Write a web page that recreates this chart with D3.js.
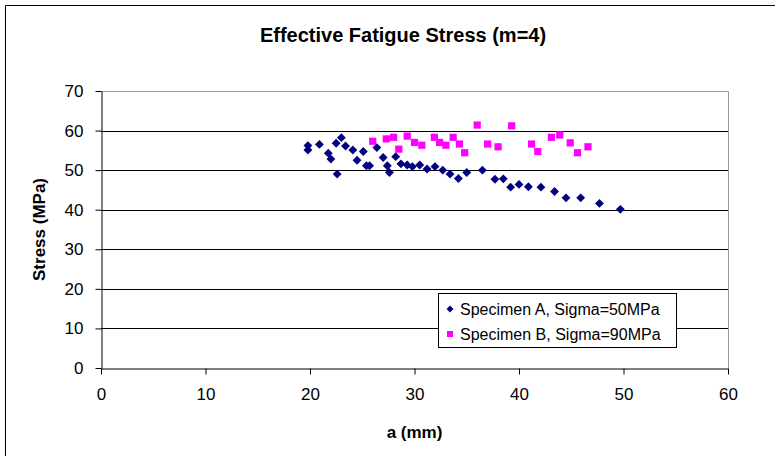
<!DOCTYPE html>
<html>
<head>
<meta charset="utf-8">
<script src="https://cdn.jsdelivr.net/npm/d3@7"></script>
<style>
  body { margin: 0; background: #fff; }
  svg { display: block; font-family: "Liberation Sans", Arial, sans-serif; }
</style>
</head>
<body>
<div id="chart"></div>
<script>
// ---------- DATA ----------
const title = "Effective Fatigue Stress (m=4)";
const xLabel = "a (mm)";
const yLabel = "Stress (MPa)";
const xTicks = [0, 10, 20, 30, 40, 50, 60];
const yTicks = [0, 10, 20, 30, 40, 50, 60, 70];

// Specimen A, Sigma=50MPa
const aX = [19.8, 19.8, 20.9, 21.75, 22.0, 22.6, 22.5, 23.0, 23.4, 24.1, 24.5, 25.1, 25.4, 25.7,
  26.4, 27.0, 27.4, 27.6, 28.2, 28.7, 29.3, 29.8, 30.5, 31.2, 31.96, 32.7, 33.4, 34.2, 35.0,
  36.5, 37.7, 38.5, 39.2, 40.0, 40.9, 42.1, 43.4, 44.5, 45.9, 47.7, 49.7];
const aY = [56.2, 55.1, 56.5, 54.3, 52.8, 49.0, 56.8, 58.2, 56.1, 55.1, 52.5, 54.7, 51.1, 51.1,
  55.7, 53.2, 51.1, 49.4, 53.4, 51.6, 51.3, 50.9, 51.3, 50.3, 50.9, 50.0, 49.0, 47.9, 49.4,
  50.0, 47.7, 47.8, 45.7, 46.4, 45.8, 45.7, 44.6, 43.0, 43.0, 41.6, 40.1];

// Specimen B, Sigma=90MPa
const bX = [26.0, 27.3, 28.0, 28.5, 29.3, 30.0, 30.7, 31.9, 32.4, 33.0, 33.7, 34.3, 34.8,
  36.0, 37.0, 38.0, 39.3, 41.2, 41.8, 43.1, 43.9, 44.9, 45.6, 46.6];
const bY = [57.3, 57.9, 58.3, 55.3, 58.6, 57.0, 56.3, 58.3, 57.0, 56.3, 58.3, 56.6, 54.4,
  61.4, 56.6, 55.9, 61.2, 56.6, 54.7, 58.3, 58.9, 56.9, 54.4, 55.9];

const seriesNames = ["Specimen A, Sigma=50MPa", "Specimen B, Sigma=90MPa"];
const seriesColors = ["#000080", "#ff00ff"];

// ---------- DRAW ----------
const W = 775, H = 456;
const plot = { left: 101, right: 728, top: 91, bottom: 368 };

const svg = d3.select("#chart").append("svg")
  .attr("width", W)
  .attr("height", H);

svg.append("rect")
  .attr("width", W).attr("height", H)
  .attr("fill", "#fff");

// outer chart frame
svg.append("path")
  .attr("d", `M5.5,${H} V5.5 H${W}`)
  .attr("fill", "none")
  .attr("stroke", "#000");

const x = d3.scaleLinear().domain([0, 60]).range([plot.left, plot.right]);
const y = d3.scaleLinear().domain([0, 70]).range([plot.bottom, plot.top]);

// gridlines
svg.append("g")
  .selectAll("line")
  .data(yTicks.filter(t => t > 0 && t < 70))
  .enter()
  .append("line")
  .attr("x1", plot.left).attr("x2", plot.right)
  .attr("y1", d => Math.round(y(d)) + 0.5)
  .attr("y2", d => Math.round(y(d)) + 0.5)
  .attr("stroke", "#000");

// plot area border (top/right, grey)
svg.append("path")
  .attr("d", `M${plot.left},${Math.round(y(70)) + 0.5} H${plot.right + 0.5} V${plot.bottom}`)
  .attr("fill", "none")
  .attr("stroke", "#999");

// axes
const xAxis = svg.append("g")
  .attr("transform", `translate(0,${Math.round(y(0)) + 0.5})`)
  .call(d3.axisBottom(x).tickValues(xTicks).tickSize(6).tickPadding(13).tickSizeOuter(0));
const yAxis = svg.append("g")
  .attr("transform", `translate(${Math.round(x(0)) + 0.5},0)`)
  .call(d3.axisLeft(y).tickValues(yTicks).tickSize(6).tickPadding(12).tickSizeOuter(0));

[xAxis, yAxis].forEach(a => {
  a.select(".domain").attr("stroke", "#000");
  a.selectAll(".tick line").attr("stroke", "#000");
  a.selectAll(".tick text")
    .attr("fill", "#000")
    .style("font-family", "'Liberation Sans', Arial, sans-serif")
    .style("font-size", "17px");
});

// titles
svg.append("text")
  .attr("x", 403).attr("y", 42)
  .attr("text-anchor", "middle")
  .style("font-weight", "bold")
  .style("font-size", "20px")
  .text(title);

svg.append("text")
  .attr("x", (plot.left + plot.right) / 2).attr("y", 438)
  .attr("text-anchor", "middle")
  .style("font-weight", "bold")
  .style("font-size", "17px")
  .text(xLabel);

svg.append("text")
  .attr("transform", `translate(45,${(plot.top + plot.bottom) / 2}) rotate(-90)`)
  .attr("text-anchor", "middle")
  .style("font-weight", "bold")
  .style("font-size", "17px")
  .text(yLabel);

// markers
const diamond = d3.symbol().type(d3.symbolDiamond2).size(50);
const square = d3.symbol().type(d3.symbolSquare).size(52);

svg.append("g")
  .selectAll("path")
  .data(aX.map((v, i) => [v, aY[i]]))
  .enter()
  .append("path")
  .attr("d", diamond)
  .attr("transform", d => `translate(${x(d[0])},${y(d[1])})`)
  .attr("fill", seriesColors[0]);

svg.append("g")
  .selectAll("path")
  .data(bX.map((v, i) => [v, bY[i]]))
  .enter()
  .append("path")
  .attr("d", square)
  .attr("transform", d => `translate(${x(d[0])},${y(d[1])})`)
  .attr("fill", seriesColors[1]);

// legend
const legend = svg.append("g").attr("transform", "translate(438,293)");
legend.append("rect")
  .attr("x", 0.5).attr("y", 0.5)
  .attr("width", 238).attr("height", 54)
  .attr("fill", "#fff")
  .attr("stroke", "#000");

seriesNames.forEach((name, i) => {
  const row = legend.append("g").attr("transform", `translate(12,${16 + i * 25})`);
  row.append("path")
    .attr("d", i === 0 ? d3.symbol().type(d3.symbolDiamond2).size(30)() : d3.symbol().type(d3.symbolSquare).size(36)())
    .attr("fill", seriesColors[i]);
  row.append("text")
    .attr("x", 10).attr("y", 6)
    .style("font-size", "16px")
    .text(name);
});
</script>
</body>
</html>
